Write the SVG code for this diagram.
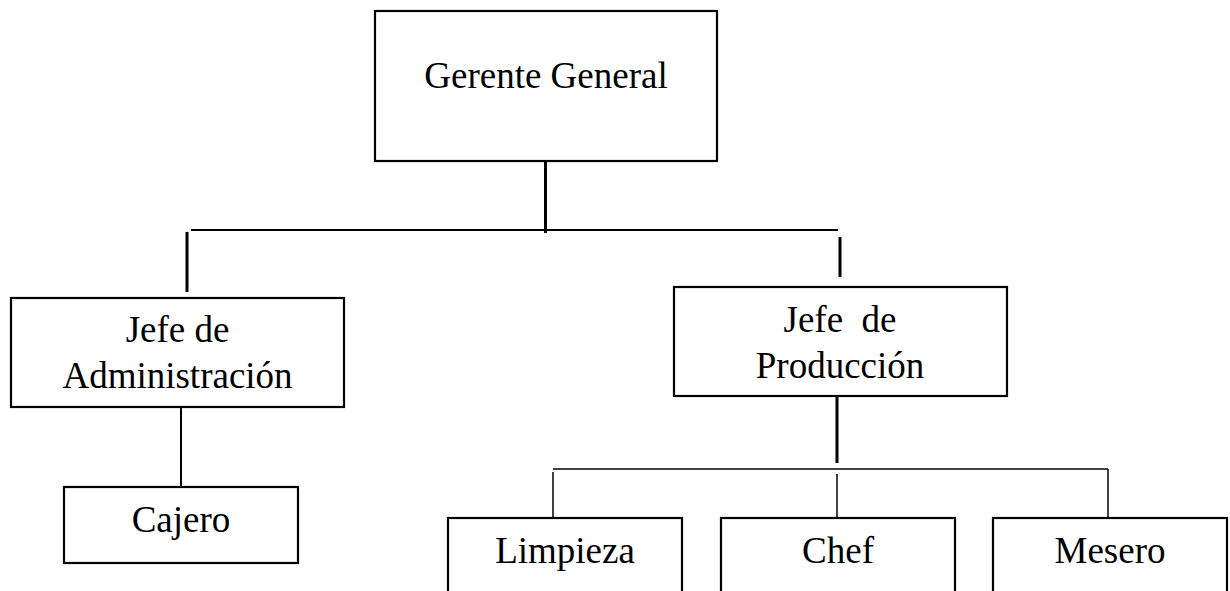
<svg xmlns="http://www.w3.org/2000/svg" width="1230" height="591" viewBox="0 0 1230 591">
<style>
.box{fill:#fff;stroke:#000;stroke-width:2.2}
.t{font-family:'Liberation Serif','Times New Roman',Times,serif;font-size:37px;fill:#000;text-anchor:middle}
.thick{stroke:#000;stroke-width:3;fill:none}
.mid{stroke:#000;stroke-width:2;fill:none}
.thin{stroke:#000;stroke-width:1.5;fill:none}
</style>
<rect width="1230" height="591" fill="#fff"/>
<g id="connectors">
<line class="thick" x1="545.5" y1="161" x2="545.5" y2="233"/>
<line class="mid" x1="191" y1="230" x2="838" y2="230"/>
<line class="thick" x1="187" y1="232" x2="187" y2="292"/>
<line class="thick" x1="840" y1="237" x2="840" y2="277"/>
<line class="mid" x1="181" y1="407" x2="181" y2="487"/>
<line class="thick" x1="837" y1="396" x2="837" y2="463"/>
<line class="thin" x1="553" y1="469" x2="1108" y2="469"/>
<line class="thin" x1="553" y1="472" x2="553" y2="518"/>
<line class="thin" x1="837" y1="474" x2="837" y2="518"/>
<line class="thin" x1="1108" y1="469" x2="1108" y2="518"/>
</g>
<g id="gerente">
<rect class="box" x="375" y="11" width="342" height="150"/>
<text class="t" x="546" y="88" font-family="Liberation Serif, serif">Gerente General</text>
</g>
<g id="jefe-admin">
<rect class="box" x="11" y="298" width="333" height="109"/>
<text class="t" x="177.5" y="342">Jefe de</text>
<text class="t" x="177.5" y="388">Administración</text>
</g>
<g id="cajero">
<rect class="box" x="64" y="487" width="234" height="76"/>
<text class="t" x="181" y="532">Cajero</text>
</g>
<g id="jefe-prod">
<rect class="box" x="674" y="287" width="333" height="109"/>
<text class="t" x="840" y="332" xml:space="preserve">Jefe  de</text>
<text class="t" x="840" y="378">Producción</text>
</g>
<g id="limpieza">
<rect class="box" x="448" y="518" width="234" height="90"/>
<text class="t" x="565" y="563">Limpieza</text>
</g>
<g id="chef">
<rect class="box" x="721" y="518" width="234" height="90"/>
<text class="t" x="838" y="563">Chef</text>
</g>
<g id="mesero">
<rect class="box" x="993" y="518" width="234" height="90"/>
<text class="t" x="1110" y="563">Mesero</text>
</g>
</svg>
